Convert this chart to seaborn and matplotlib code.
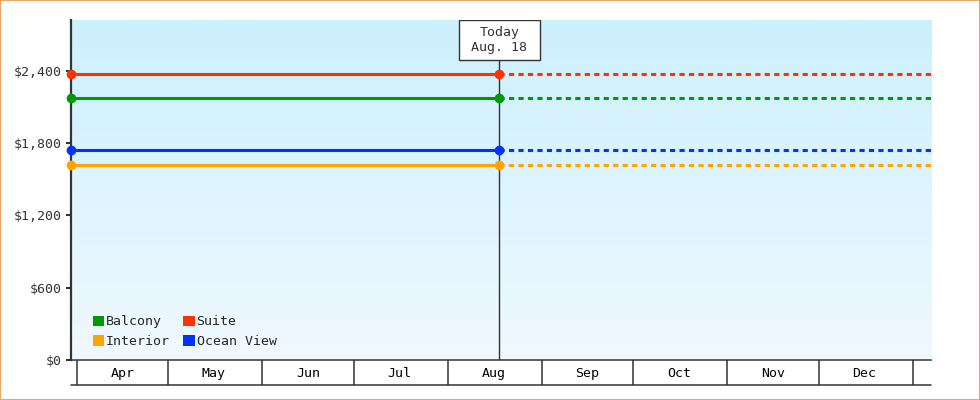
import matplotlib
matplotlib.use("Agg")
import matplotlib.pyplot as plt
import matplotlib.dates as mdates
from matplotlib.patches import Patch, Rectangle
from matplotlib.ticker import FuncFormatter
from matplotlib.colors import LinearSegmentedColormap
import numpy as np
import pandas as pd
import seaborn as sns

# cabin prices (flat lines), today marker and projection
cabins = ["Balcony", "Suite", "Interior", "Ocean View"]
prices = [2175, 2375, 1620, 1740]
colors = ["#009900", "#ff3300", "#ffa500", "#0033ff"]
start_date = "2025-03-30"
today_date = "2025-08-18"
end_date = "2026-01-07"
y_ticks = [0, 600, 1200, 1800, 2400]
y_max = 2820
today_label = "Today\nAug. 18"

sns.set_theme(style="ticks")
plt.rcParams["font.family"] = ["DejaVu Sans Mono", "DejaVu Sans"]
dark = "#333333"

start, today, end = pd.Timestamp(start_date), pd.Timestamp(today_date), pd.Timestamp(end_date)
actual = pd.DataFrame({
    "cabin": [c for c in cabins for _ in range(2)],
    "date": [d for _ in cabins for d in (start, today)],
    "price": [p for p in prices for _ in range(2)],
})
projected = pd.DataFrame({
    "cabin": [c for c in cabins for _ in range(2)],
    "date": [d for _ in cabins for d in (today, end)],
    "price": [p for p in prices for _ in range(2)],
})
palette = dict(zip(cabins, colors))

fig = plt.figure(figsize=(9.8, 4.0), dpi=100)
ax = fig.add_axes([71 / 980, 40 / 400, 860 / 980, 340 / 400])

# background gradient
cmap = LinearSegmentedColormap.from_list("bg", ["#f0f9ff", "#ccf0fd"])
grad = np.linspace(0, 1, 256).reshape(-1, 1)
ax.imshow(grad, cmap=cmap, origin="lower", extent=[0, 1, 0, 1],
          transform=ax.transAxes, aspect="auto", zorder=0)

sns.lineplot(data=projected, x="date", y="price", hue="cabin", palette=palette,
             linewidth=2.2, linestyle=(0, (1.7, 1.4)), legend=False, ax=ax, zorder=3)
sns.lineplot(data=actual, x="date", y="price", hue="cabin", palette=palette,
             linewidth=2.2, marker="o", markersize=7, markeredgewidth=0,
             legend=False, ax=ax, zorder=4, clip_on=False)

ax.set_xlim(start, end)
ax.set_ylim(0, y_max)
ax.set_xlabel("")
ax.set_ylabel("")

# today line and box
ax.axvline(today, ymin=0, ymax=1 - 40 / 340, color=dark, lw=1, zorder=2)
trans = ax.get_xaxis_transform()
half = pd.Timedelta(days=13.2)
ax.add_patch(Rectangle((mdates.date2num(today - half), 1 - 40 / 340),
                       mdates.date2num(today + half) - mdates.date2num(today - half),
                       40 / 340, transform=trans, facecolor="white",
                       edgecolor=dark, lw=1, zorder=5))
ax.text(today, 1 - 20 / 340, today_label, transform=trans, ha="center",
        va="center", fontsize=9.5, color=dark, linespacing=1.25, zorder=6)

# y axis
ax.set_yticks(y_ticks)
ax.yaxis.set_major_formatter(FuncFormatter(lambda v, _: f"${v:,.0f}"))
ax.tick_params(axis="y", length=3.6, width=1.5, color=dark, pad=3,
               labelsize=9.5, labelcolor=dark)

# x axis: month cells
ax.xaxis.set_major_locator(mdates.MonthLocator())
ax.xaxis.set_major_formatter(plt.NullFormatter())
ax.xaxis.set_minor_locator(mdates.MonthLocator(bymonthday=16))
ax.xaxis.set_minor_formatter(mdates.DateFormatter("%b"))
ax.tick_params(axis="x", which="major", length=18, width=1.1, color=dark,
               direction="out")
ax.tick_params(axis="x", which="minor", length=0, pad=5, labelsize=9.5,
               labelcolor="black")
ax.plot([0, 1], [-25 / 340] * 2, transform=ax.transAxes, color=dark,
        lw=1.1, clip_on=False)

for side in ["top", "right"]:
    ax.spines[side].set_visible(False)
ax.spines["left"].set_color(dark)
ax.spines["left"].set_linewidth(1.6)
ax.spines["bottom"].set_color(dark)
ax.spines["bottom"].set_linewidth(1.1)

# legend
handles = [Patch(facecolor=palette[c], edgecolor="none", label=c)
           for c in ["Balcony", "Interior", "Suite", "Ocean View"]]
ax.legend(handles=handles, ncol=2, loc="lower left",
          bbox_to_anchor=(22 / 860, 12 / 340), frameon=False, fontsize=9.5,
          handlelength=0.85, handleheight=0.85, handletextpad=0.15,
          columnspacing=1.0, labelspacing=0.5, borderpad=0, borderaxespad=0)

fig.patches.append(Rectangle((0, 0), 1, 1, transform=fig.transFigure,
                             fill=False, edgecolor="#e8a862", lw=1.5))

fig.savefig("out.png", dpi=100)
plt.close(fig)
